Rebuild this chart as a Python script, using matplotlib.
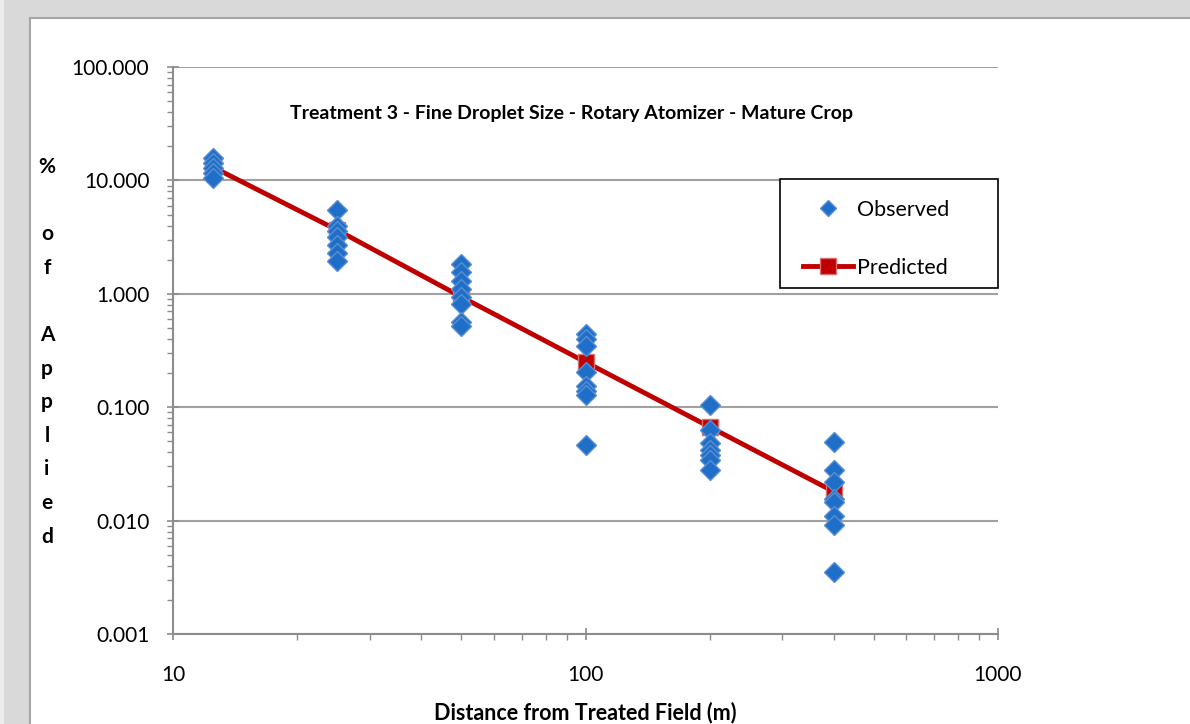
import matplotlib
matplotlib.use("Agg")
import matplotlib.pyplot as plt
from matplotlib.patches import Rectangle
from matplotlib.lines import Line2D
from matplotlib.ticker import FixedLocator, LogLocator, NullFormatter, FuncFormatter

# ---- data ----
obs_x_12 = [12.5] * 5
obs_y_12 = [15.8, 14.2, 12.8, 11.6, 10.5]
obs_x_25 = [25] * 7
obs_y_25 = [5.5, 4.0, 3.6, 3.2, 2.7, 2.3, 1.95]
obs_x_50 = [50] * 8
obs_y_50 = [1.85, 1.55, 1.3, 1.1, 0.94, 0.82, 0.56, 0.52]
obs_x_100 = [100] * 8
obs_y_100 = [0.44, 0.40, 0.35, 0.205, 0.155, 0.14, 0.127, 0.046]
obs_x_200 = [200] * 7
obs_y_200 = [0.104, 0.063, 0.048, 0.042, 0.038, 0.034, 0.028]
obs_x_400 = [400] * 8
obs_y_400 = [0.049, 0.028, 0.022, 0.0155, 0.0145, 0.011, 0.0092, 0.0035]

pred_x = [12.5, 25, 50, 100, 200, 400]
pred_y = [13.1, 3.65, 0.94, 0.25, 0.067, 0.018]

obs_x = obs_x_12 + obs_x_25 + obs_x_50 + obs_x_100 + obs_x_200 + obs_x_400
obs_y = obs_y_12 + obs_y_25 + obs_y_50 + obs_y_100 + obs_y_200 + obs_y_400

title = "Treatment 3 - Fine Droplet Size - Rotary Atomizer - Mature Crop"
xlabel = "Distance from Treated Field (m)"
ylabel_letters = ["%", "", "o", "f", "", "A", "p", "p", "l", "i", "e", "d"]
x_major = [10, 100, 1000]
y_major = [0.001, 0.01, 0.1, 1, 10, 100]

FONT = ["Lato", "DejaVu Sans"]
plt.rcParams["font.family"] = FONT

W, H = 1190, 724
fig = plt.figure(figsize=(W / 100, H / 100), dpi=100, facecolor="#d9d9d9")

# white chart area
fig.patches.append(Rectangle((30 / W, -0.01), 1.01 - 30 / W, 1.01 - 18 / H, transform=fig.transFigure,
                             facecolor="white", edgecolor="#a6a6a6", linewidth=1.5, zorder=-2))
fig.patches.append(Rectangle((0, 0), 4 / W, 1, transform=fig.transFigure,
                             facecolor="#ececec", edgecolor="none", zorder=-2))

ax = fig.add_axes([173 / W, 1 - 634 / H, (998 - 173) / W, (634 - 67) / H])
ax.set_zorder(1)
ax.set_facecolor("none")
ax.set_xscale("log")
ax.set_yscale("log")
ax.set_xlim(10, 1000)
ax.set_ylim(0.001, 100)

for s in ["top", "right"]:
    ax.spines[s].set_visible(False)
for s in ["left", "bottom"]:
    ax.spines[s].set_color("#8c8c8c")
    ax.spines[s].set_linewidth(1.5)

ax.yaxis.set_major_locator(FixedLocator(y_major))
ax.yaxis.set_minor_locator(LogLocator(base=10, subs=range(2, 10)))
ax.yaxis.set_major_formatter(FuncFormatter(lambda v, p: f"{v:.3f}"))
ax.yaxis.set_minor_formatter(NullFormatter())
ax.xaxis.set_major_locator(FixedLocator(x_major))
ax.xaxis.set_minor_locator(LogLocator(base=10, subs=range(2, 10)))
ax.xaxis.set_major_formatter(FuncFormatter(lambda v, p: f"{v:g}"))
ax.xaxis.set_minor_formatter(NullFormatter())

ax.tick_params(which="major", direction="inout", length=8, width=1.2, color="#8c8c8c",
               labelsize=15, labelcolor="black")
ax.tick_params(which="minor", direction="out", length=4, width=1.0, color="#8c8c8c")
ax.tick_params(axis="y", which="major", pad=13)
ax.tick_params(axis="x", which="major", pad=18)

ax.grid(True, axis="y", which="major", color="#a0a0a0", linewidth=1.5, zorder=0)
ax.set_axisbelow(True)

ax.plot(pred_x, pred_y, color="#C00000", linewidth=3.5, marker="s", markersize=12,
        markerfacecolor="#C00000", markeredgecolor="#D87070", markeredgewidth=1, zorder=3)
ax.plot(obs_x, obs_y, linestyle="none", marker="D", markersize=10.5,
        markerfacecolor="#1F6FC8", markeredgecolor="#5A8ED0", markeredgewidth=1, zorder=4)

fig.text(572 / W, 1 - 113 / H, title, ha="center", va="center", fontsize=14, fontweight="bold")
fig.text(585 / W, 1 - 713 / H, xlabel, ha="center", va="center", fontsize=15.5, fontweight="bold")

y0, dy = 167, 33.6
for i, ch in enumerate(ylabel_letters):
    if ch:
        fig.text(47 / W, 1 - (y0 + i * dy) / H, ch, ha="center", va="center",
                 fontsize=15, fontweight="bold")

# legend box
bx0, by0, bx1, by1 = 780, 179, 998, 288
ax.add_patch(Rectangle(((bx0 - 173) / 825, (634 - by1) / 567), (bx1 - bx0) / 825, (by1 - by0) / 567,
                       transform=ax.transAxes, facecolor="white", edgecolor="black",
                       linewidth=1.2, zorder=5, clip_on=False))
handles = [
    Line2D([], [], linestyle="none", marker="D", markersize=8.5, markerfacecolor="#1F6FC8",
           markeredgecolor="#5A8ED0"),
    Line2D([], [], color="#C00000", linewidth=3.5, marker="s", markersize=11,
           markerfacecolor="#C00000", markeredgecolor="#D87070"),
]
leg = ax.legend(handles, ["Observed", "Predicted"], loc="upper left",
                bbox_to_anchor=((803 - 173) / 825, (634 - 200) / 567),
                frameon=False, fontsize=15.5, handlelength=2.3, handletextpad=0.2,
                labelspacing=1.75, borderpad=0, borderaxespad=0)
leg.set_zorder(6)

fig.savefig("out.png", dpi=100, facecolor=fig.get_facecolor())
